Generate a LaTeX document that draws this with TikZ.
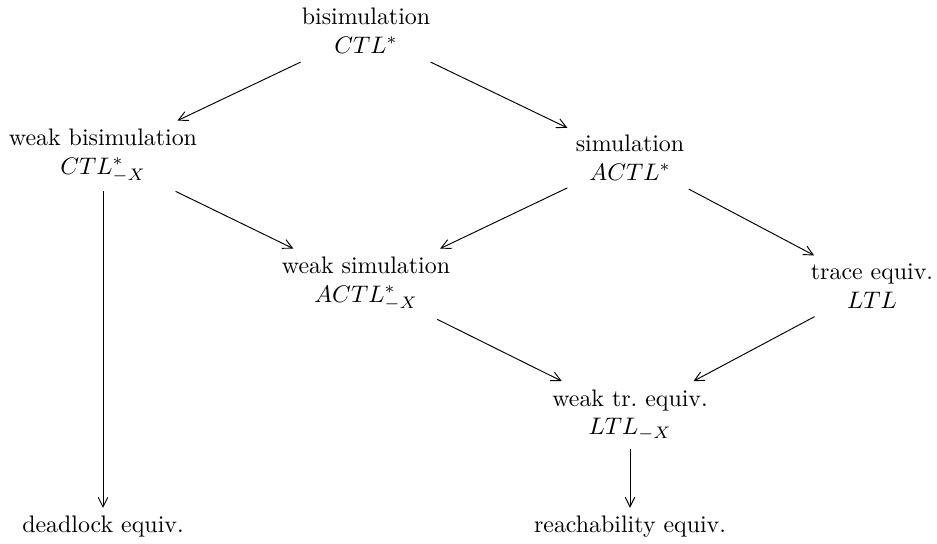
\documentclass[tikz,border=0pt]{standalone}
\usetikzlibrary{arrows.meta}
\begin{document}
\begin{tikzpicture}[x=0.4184pt,y=-0.4184pt,
  eqnode/.style={align=center,inner sep=3.33pt},
  impl/.style={-{Straight Barb[length=4pt,width=4pt]},line width=0.4pt}]
\useasboundingbox (0,0) rectangle (937,543);
% equivalences with the logics they preserve
\node[eqnode] (bis)  at (366,31)  {bisimulation\\$CTL^*$};
\node[eqnode] (wbis) at (103,156) {weak bisimulation\\$CTL^*_{-X}$};
\node[eqnode] (sim)  at (630,158) {simulation\\$ACTL^*$};
\node[eqnode] (wsim) at (366,284) {weak simulation\\$ACTL^*_{-X}$};
\node[eqnode] (tr)   at (872,286) {trace equiv.\\$LTL$};
\node[eqnode] (wtr)  at (630,415) {weak tr.\ equiv.\\$LTL_{-X}$};
\node[eqnode] (dl)   at (103,527) {deadlock equiv.};
\node[eqnode] (re)   at (630,527) {reachability equiv.};
% implications between them
\draw[impl] (bis)  -- (wbis);
\draw[impl] (bis)  -- (sim);
\draw[impl] (wbis) -- (dl);
\draw[impl] (wbis) -- (wsim);
\draw[impl] (sim)  -- (wsim);
\draw[impl] (sim)  -- (tr);
\draw[impl] (wsim) -- (wtr);
\draw[impl] (tr)   -- (wtr);
\draw[impl] (wtr)  -- (re);
\end{tikzpicture}
\end{document}
